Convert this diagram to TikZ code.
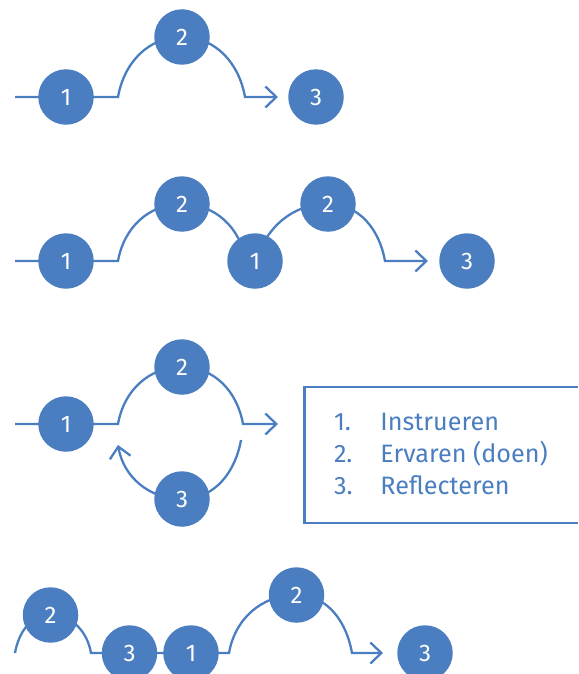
\documentclass[tikz,border=0pt]{standalone}
\usepackage{fontspec}
\setmainfont{Fira Sans}
\usetikzlibrary{arrows.meta,positioning}
\definecolor{blauw}{HTML}{4A7EC0}
\pgfdeclarelayer{achter}
\pgfsetlayers{achter,main}
\begin{document}
\begin{tikzpicture}[x=0.5pt,y=-0.5pt,
	stap/.style={circle, fill=blauw, text=white, minimum size=27.75pt, inner sep=0pt,
		font=\fontsize{12}{12}\selectfont},
	lijn/.style={draw=blauw, line width=1.15pt},
	pijl/.style={lijn, -{Straight Barb[length=5.5pt,width=10.5pt]}},
	op/.style={out=80,in=180}, neer/.style={out=0,in=100},
	uitleg/.style={text=blauw, inner sep=0pt, anchor=base west,
		font=\fontsize{12.6}{12.6}\selectfont}]
	\useasboundingbox (0,0) rectangle (578,674);
	% rij 1
	\node[stap] (a1) at (66,97) {1};
	\node[stap] (a2) at (182,37) {2};
	\node[stap] (a3) at (316,97) {3};
	\coordinate (a0) at (15,97);
	\coordinate (a1r) at (118,97);
	\coordinate (a2r) at (245,97);
	\coordinate (ae) at (278,97);
	% rij 2
	\foreach \lab/\x/\y [count=\c] in {1/66/261, 2/182/204, 1/255/261, 2/328/204, 3/467/261} {
		\node[stap] (b\c) at (\x,\y) {\lab};
	}
	\coordinate (b0) at (15,261);
	\coordinate (b1r) at (118,261);
	\coordinate (b2r) at (246,261);
	\coordinate (b4r) at (385,261);
	\coordinate (be) at (428,261);
	% rij 3
	\node[stap] (c1) at (66,424) {1};
	\node[stap] (c2) at (182,367) {2};
	\node[stap] (c3) at (182,499) {3};
	\coordinate (c0) at (15,424);
	\coordinate (c1r) at (118,424);
	\coordinate (c2r) at (243,424);
	\coordinate (ce) at (278,424);
	\coordinate (c3r) at (241,440);
	\coordinate (c3l) at (118,445);
	% rij 4
	\foreach \lab/\x/\y [count=\c] in {2/50.5/615, 3/129.5/653, 1/191/653, 2/296.5/595, 3/425/653} {
		\node[stap] (d\c) at (\x,\y) {\lab};
	}
	\coordinate (d0) at (15,653);
	\coordinate (d1r) at (91,653);
	\coordinate (d3r) at (229,653);
	\coordinate (d4r) at (352,653);
	\coordinate (de) at (383,653);
	\begin{pgfonlayer}{achter}
		\draw[pijl] (a0) -- (a1r) to[op] (a2.center) to[neer] (a2r) -- (ae);
		\draw[pijl] (b0) -- (b1r) to[op] (b2.center) to[neer] (b2r)
			-- (b3.center) to[out=70,in=180] (b4.center) to[neer] (b4r) -- (be);
		\draw[pijl] (c0) -- (c1r) to[op] (c2.center) to[neer] (c2r) -- (ce);
		\draw[pijl] (c3r) to[out=-100,in=0] (c3.center) to[out=180,in=-80] (c3l);
		\draw[pijl] (d0) to[op] (d1.center) to[neer] (d1r) -- (d3r)
			to[op] (d4.center) to[neer] (d4r) -- (de);
	\end{pgfonlayer}
	% legenda
	\draw[lijn] (578,387) -- (304.5,387) -- (304.5,523) -- (578,523);
	\foreach \lab [count=\c, evaluate=\c as \y using {398+32*\c}]
	in {Instrueren, {Ervaren (doen)}, Reflecteren} {
		\node[uitleg] (n\c) at (333.6,\y) {\c.};
		\node[uitleg] (t\c) at (380,\y) {\lab};
	}
\end{tikzpicture}
\end{document}
